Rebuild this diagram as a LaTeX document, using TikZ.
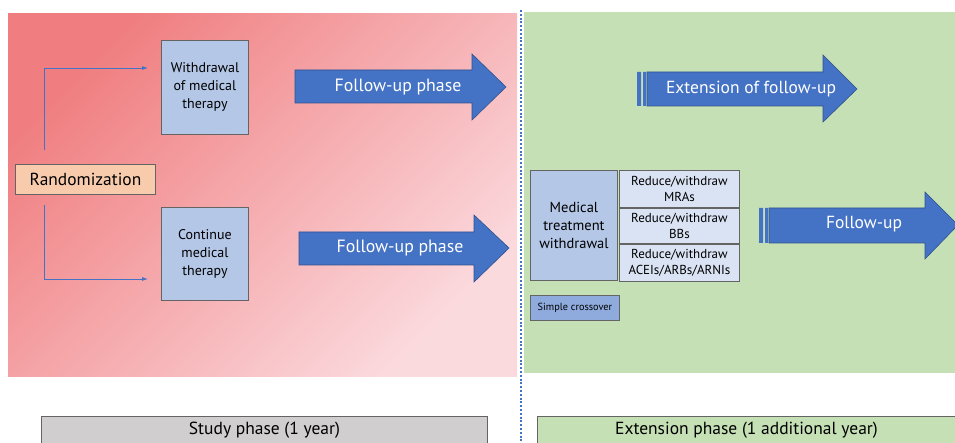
\documentclass[tikz,border=0pt]{standalone}
\usepackage{fontspec}
\setmainfont{PT Sans}
\usetikzlibrary{arrows.meta}

\definecolor{armblue}{RGB}{180,199,231}
\definecolor{paleblue}{RGB}{218,227,243}
\definecolor{midblue}{RGB}{143,170,220}
\definecolor{arrowblue}{RGB}{68,114,196}
\definecolor{arrowedge}{RGB}{47,82,143}
\definecolor{peach}{RGB}{248,203,173}
\definecolor{panelgreen}{RGB}{197,224,180}
\definecolor{phasegray}{RGB}{208,206,206}
\definecolor{boxedge}{RGB}{100,100,100}
\definecolor{reddark}{RGB}{240,126,128}
\definecolor{redlight}{RGB}{251,218,222}

\tikzset{
    box/.style={draw=boxedge, line width=0.9pt, align=center, inner sep=0pt},
    bigarrow/.style={draw=arrowedge, fill=arrowblue, line width=0.6pt},
    arrowtext/.style={text=white, font=\fontsize{17.8}{20}\selectfont},
    branch/.style={draw=arrowblue, line width=0.8pt, -{Latex[length=6pt,width=4pt]}}
}

\begin{document}
\begin{tikzpicture}[x=1pt, y=-1pt]
    \useasboundingbox (0,0) rectangle (955,443);

    % panels
    \shade[top color=reddark, bottom color=redlight, shading angle=45]
        (8,14) rectangle (517,376);
    \fill[panelgreen] (524,12) rectangle (955,373);
    \draw[arrowblue, line width=2.8pt, dash pattern=on 2pt off 1.8pt] (521,10) -- (521,443);

    % study phase
    \node[box, fill=peach, minimum width=140pt, minimum height=30pt, anchor=north west,
          font=\fontsize{17.4}{19}\selectfont] (rand) at (15,164) {Randomization};
    \node[box, fill=armblue, minimum width=87pt, minimum height=94pt, anchor=north west,
          font=\fontsize{14}{18}\selectfont] (withdraw) at (161,40) {Withdrawal\\of medical\\therapy};
    \node[box, fill=armblue, minimum width=87pt, minimum height=93pt, anchor=north west,
          font=\fontsize{14}{18}\selectfont] (cont) at (161,207) {Continue\\medical\\therapy};
    \coordinate (up) at (44,150);
    \coordinate (down) at (44,205);
    \draw[branch] (up) |- ([xshift=-13pt]withdraw.west |- 0,68);
    \draw[branch] (down) |- ([xshift=-13pt]cont.west |- 0,279);

    \draw[bigarrow, shift={(295,0)}] (0,70) -- (177,70) -- (177,54) -- (211,87)
        -- (177,120) -- (177,103) -- (0,103) -- cycle;
    \node[arrowtext] (fup1) at (398,87) {Follow-up phase};
    \draw[bigarrow, shift={(299,0)}] (0,232) -- (175,232) -- (175,215) -- (210,248)
        -- (175,282) -- (175,265) -- (0,265) -- cycle;
    \node[arrowtext] (fup2) at (400,248) {Follow-up phase};

    % extension phase
    \fill[arrowblue] (637,72) rectangle (641,106) (643,72) rectangle (646,106);
    \draw[bigarrow] (647,72) -- (823,72) -- (823,55) -- (857,89)
        -- (823,122) -- (823,106) -- (647,106) -- cycle;
    \node[arrowtext, font=\fontsize{17.5}{20}\selectfont] (ext) at (751,89) {Extension of follow-up};

    \fill[arrowblue] (759,208) rectangle (763,243) (765,208) rectangle (768,243);
    \draw[bigarrow] (769,208) -- (925,208) -- (925,192) -- (958,225)
        -- (925,259) -- (925,243) -- (769,243) -- cycle;
    \node[arrowtext, font=\fontsize{17.5}{20}\selectfont] (fup3) at (864,224) {Follow-up};

    \node[box, fill=armblue, minimum width=87pt, minimum height=110pt, anchor=north west,
          font=\fontsize{14.5}{18}\selectfont] (mtw) at (530,170) {Medical\\treatment\\withdrawal};
    \foreach[count=~] \t/\y/\h in {MRAs/170/37, BBs/208/35, ACEIs\slash ARBs\slash ARNIs/244/37} {
        \node[box, fill=paleblue, minimum width=120pt, minimum height=\h pt, anchor=north west,
              font=\fontsize{13}{16}\selectfont] (red~) at (619,\y) {Reduce/withdraw\\\t};
    }
    \node[box, fill=midblue, minimum width=89pt, minimum height=25pt, anchor=north west,
          font=\fontsize{10.3}{12}\selectfont] (cross) at (530,295) {Simple crossover};

    % phase labels
    \node[box, fill=phasegray, minimum width=446pt, minimum height=27pt, anchor=north west,
          font=\fontsize{17.5}{19}\selectfont] (study) at (41,416) {Study phase (1 year)};
    \node[box, fill=panelgreen, minimum width=418pt, minimum height=27pt, anchor=north west,
          font=\fontsize{17.5}{19}\selectfont] (extph) at (537,416) {Extension phase (1 additional year)};
\end{tikzpicture}
\end{document}
